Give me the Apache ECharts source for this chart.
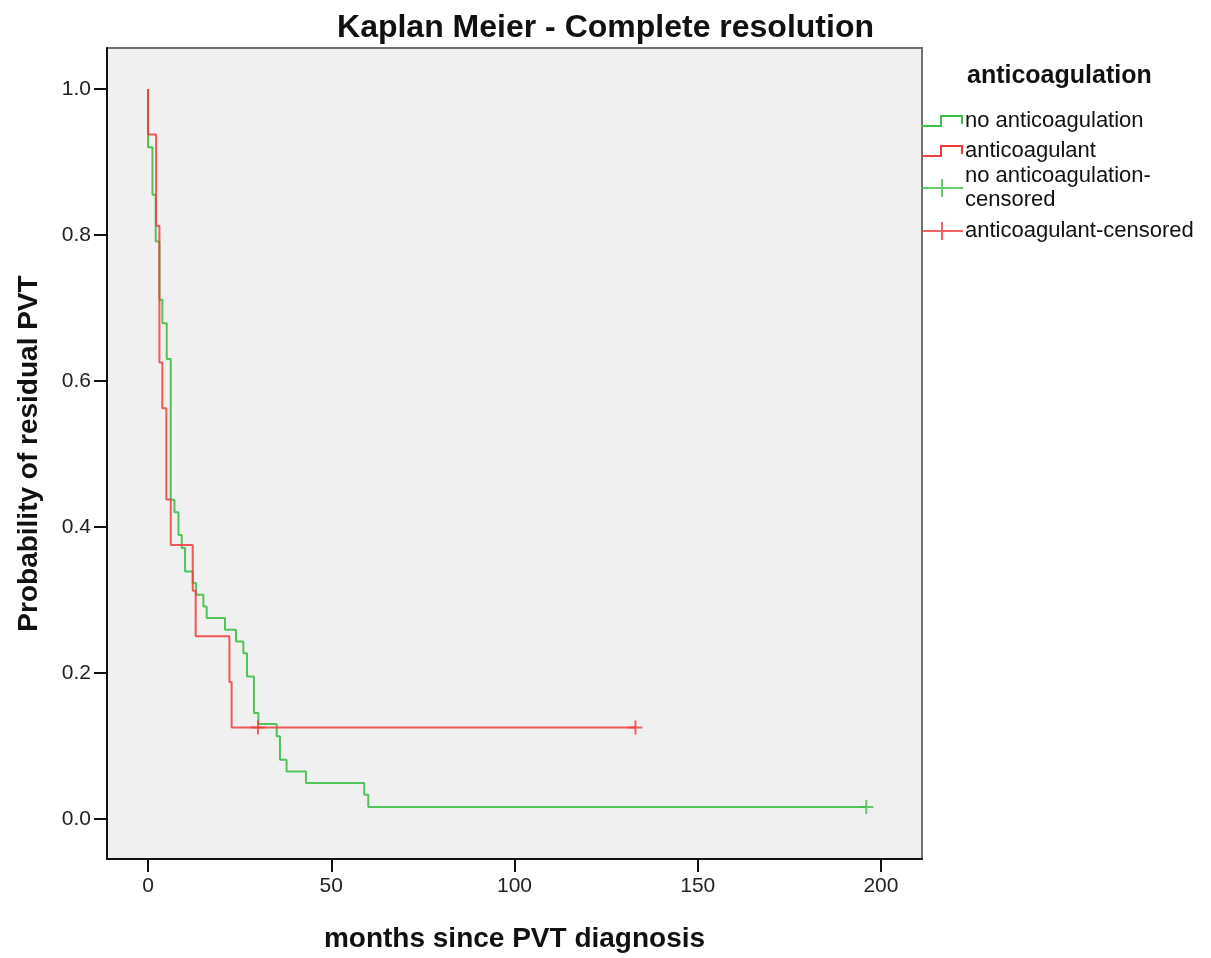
<!DOCTYPE html>
<html>
<head>
<meta charset="utf-8">
<script src="https://cdn.jsdelivr.net/npm/echarts@6/dist/echarts.min.js"></script>
<style>
  html, body { margin: 0; padding: 0; background: #fff; }
  #chart { width: 1211px; height: 958px; }
</style>
</head>
<body>
<div id="chart"></div>
<script>
// Kaplan-Meier steps (months, survival after the event)
const noAntiTimes = [0, 0, 1.2, 2.1, 3.1, 3.9, 5.1, 6.2, 7.2, 8.3, 9.2, 10.1, 12.2, 13.1, 15.1, 16.0,
  21.0, 24.0, 26.0, 27.0, 28.9, 30.1, 35.1, 36.0, 37.8, 43.1, 59.0, 60.1, 196];
const noAntiSurv = [1.0, 0.920, 0.855, 0.791, 0.711, 0.679, 0.630, 0.437, 0.420, 0.389, 0.371, 0.339,
  0.323, 0.307, 0.291, 0.275, 0.259, 0.243, 0.227, 0.195, 0.145, 0.130, 0.113, 0.081, 0.065, 0.049,
  0.033, 0.0164, 0.0164];
const antiTimes = [0, 0, 2.2, 3.1, 3.9, 5.0, 6.2, 12.2, 13.0, 22.2, 22.8, 133];
const antiSurv = [1.0, 0.9375, 0.8125, 0.625, 0.5625, 0.4375, 0.375, 0.3125, 0.25, 0.1875, 0.125, 0.125];

const noAntiCensTimes = [196];
const noAntiCensSurv = [0.0164];
const antiCensTimes = [30, 133];
const antiCensSurv = [0.125, 0.125];

const xTicks = [0, 50, 100, 150, 200];
const yTicks = [0, 0.2, 0.4, 0.6, 0.8, 1.0];

const GREEN = '#3fbf48';
const RED = '#f03c3c';
const FONT = 'Liberation Sans';

const zip = (a, b) => a.map((v, i) => [v, b[i]]);

const stepIcon = 'path://M0,10h21v2h-21z M19,0h2v12h-2z M19,0h23v2h-23z M40,0h2v9h-2z';
const crossIcon = 'path://M0,8h42v2h-42z M20,0h2v18h-2z';
const plusSymbol = 'path://M6,0h2v14h-2z M0,6h14v2h-14z';

function legendAt(name, top, icon, h) {
  return {
    data: [{ name: name, icon: icon }],
    left: 921, top: top, padding: 0,
    itemWidth: 42, itemHeight: h,
    selectedMode: false,
    formatter: n => n === 'no anticoagulation-censored' ? 'no anticoagulation-\ncensored' : n,
    textStyle: { fontFamily: FONT, fontSize: 22, color: '#111', lineHeight: 24, padding: [0, 0, 0, -3] }
  };
}

const chart = echarts.init(document.getElementById('chart'));
chart.setOption({
  animation: false,
  title: [
    {
      text: 'Kaplan Meier - Complete resolution', left: 'center', top: 7,
      textStyle: { fontFamily: FONT, fontSize: 32, fontWeight: 'bold', color: '#111' }
    },
    {
      text: 'anticoagulation', left: 962, top: 59,
      textStyle: { fontFamily: FONT, fontSize: 25, fontWeight: 'bold', color: '#111' }
    }
  ],
  legend: [
    legendAt('no anticoagulation', 109, stepIcon, 12),
    legendAt('anticoagulant', 139, stepIcon, 12),
    legendAt('no anticoagulation-censored', 164, crossIcon, 18),
    legendAt('anticoagulant-censored', 219, crossIcon, 18)
  ],
  grid: {
    left: 107, top: 48, width: 815, height: 811,
    show: true, backgroundColor: '#f0f0f0', borderColor: '#707070', borderWidth: 2
  },
  xAxis: {
    type: 'value', min: -11.2, max: 211.2,
    name: 'months since PVT diagnosis', nameLocation: 'middle', nameGap: 66,
    nameTextStyle: { fontFamily: FONT, fontSize: 28, fontWeight: 'bold', color: '#111' },
    axisLine: { onZero: false, lineStyle: { color: '#111', width: 2 } },
    axisTick: { customValues: xTicks, length: 13, lineStyle: { color: '#111', width: 2 } },
    axisLabel: { customValues: xTicks, margin: 17, fontFamily: FONT, fontSize: 21, color: '#222' },
    splitLine: { show: false }
  },
  yAxis: {
    type: 'value', min: -0.055, max: 1.056,
    name: 'Probability of residual PVT', nameLocation: 'middle', nameGap: 64,
    nameTextStyle: { fontFamily: FONT, fontSize: 28, fontWeight: 'bold', color: '#111' },
    axisLine: { onZero: false, lineStyle: { color: '#111', width: 2 } },
    axisTick: { customValues: yTicks, length: 13, lineStyle: { color: '#111', width: 2 } },
    axisLabel: {
      customValues: yTicks, margin: 16, fontFamily: FONT, fontSize: 21, color: '#222',
      formatter: v => v.toFixed(1)
    },
    splitLine: { show: false }
  },
  series: [
    {
      name: 'no anticoagulation', type: 'line', step: 'end', symbol: 'none',
      data: zip(noAntiTimes, noAntiSurv), color: GREEN,
      lineStyle: { width: 2, color: GREEN, opacity: 0.9 }, z: 2
    },
    {
      name: 'anticoagulant', type: 'line', step: 'end', symbol: 'none',
      data: zip(antiTimes, antiSurv), color: RED,
      lineStyle: { width: 2, color: RED, opacity: 0.85 }, z: 3
    },
    {
      name: 'no anticoagulation-censored', type: 'scatter', symbol: plusSymbol, symbolSize: 14,
      data: zip(noAntiCensTimes, noAntiCensSurv), color: GREEN, itemStyle: { color: GREEN }, z: 4
    },
    {
      name: 'anticoagulant-censored', type: 'scatter', symbol: plusSymbol, symbolSize: 14,
      data: zip(antiCensTimes, antiCensSurv), color: RED, itemStyle: { color: RED }, z: 4
    }
  ]
});
</script>
</body>
</html>
